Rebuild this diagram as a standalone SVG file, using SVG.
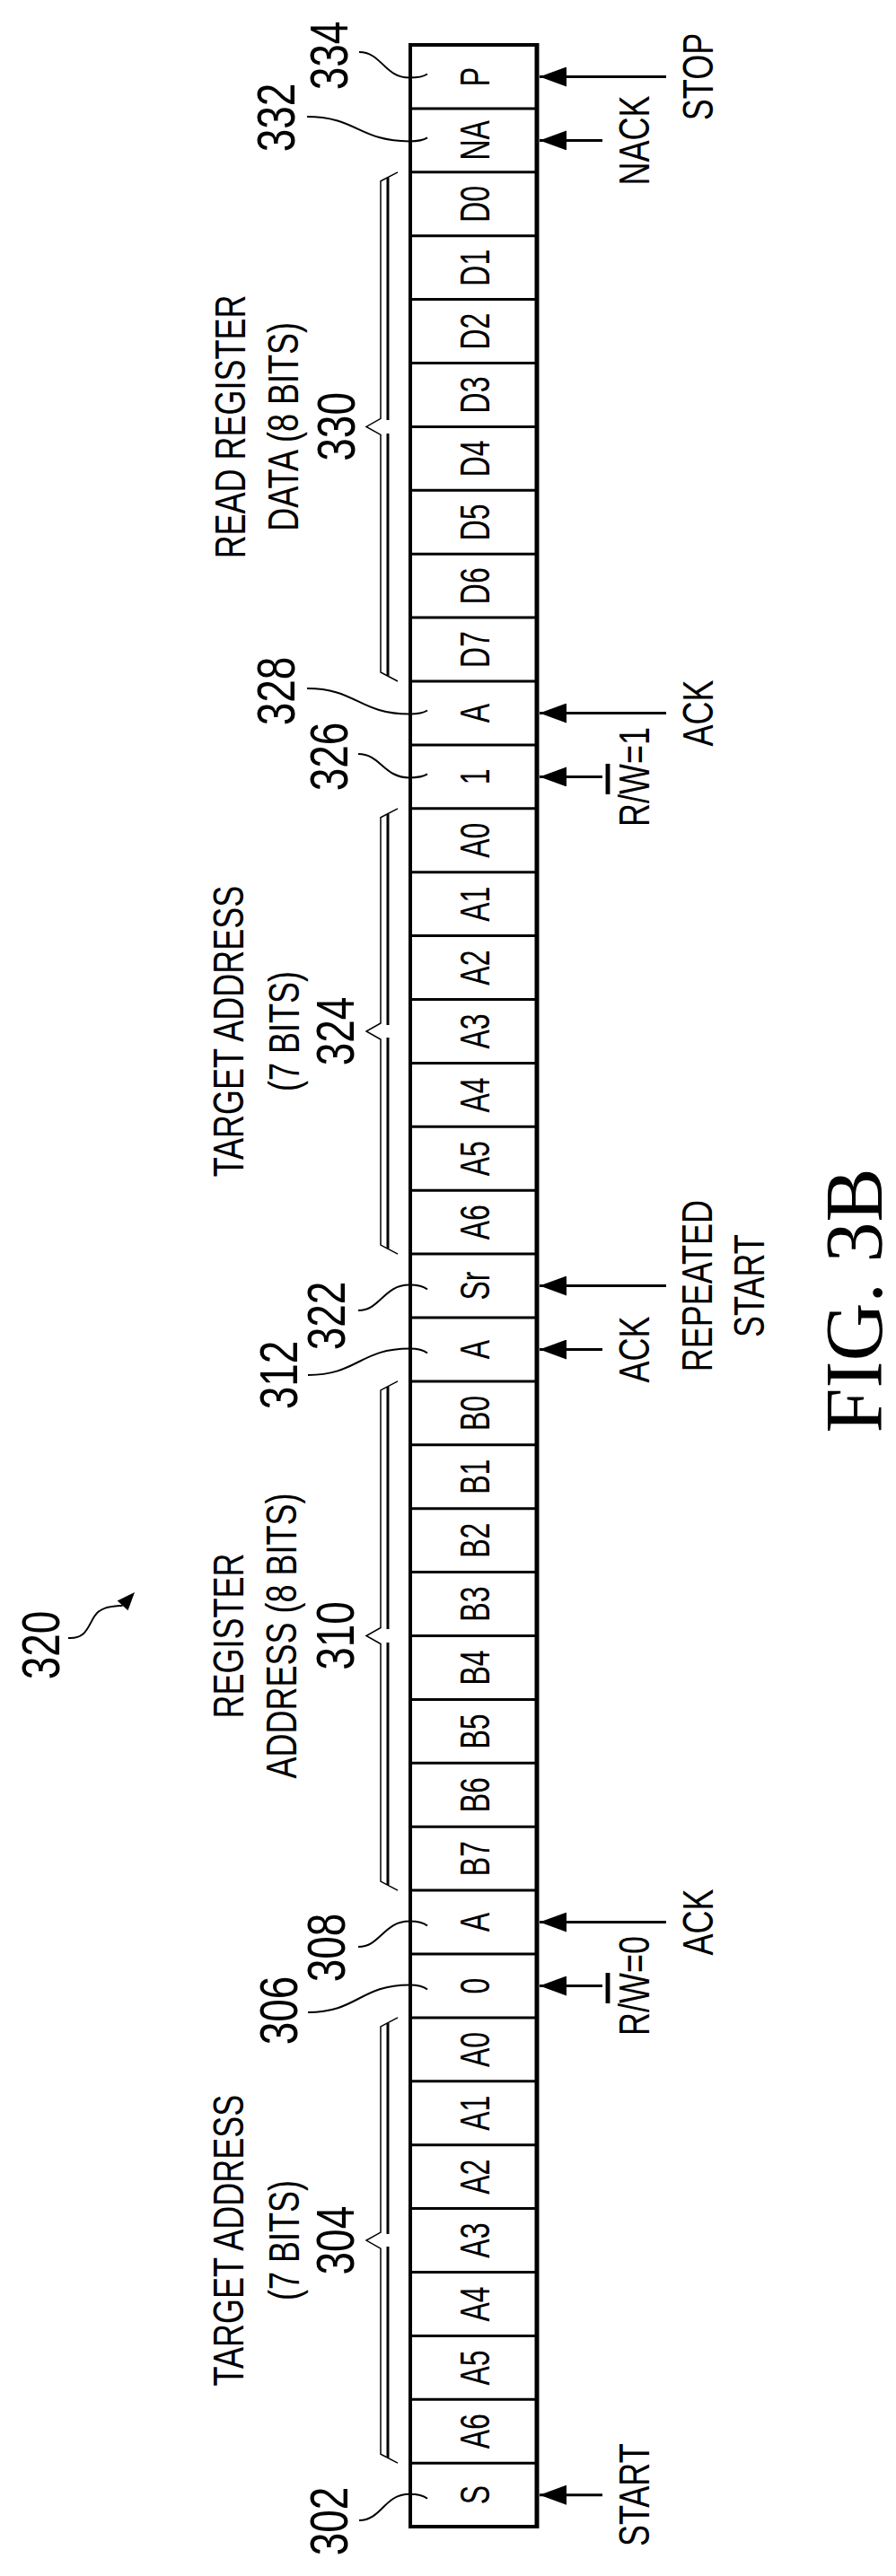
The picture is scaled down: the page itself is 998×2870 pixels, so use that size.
<svg xmlns="http://www.w3.org/2000/svg" width="998" height="2870" viewBox="0 0 998 2870">
<defs>
<style>
text{font-family:"Liberation Sans",Arial,sans-serif;fill:#000;text-anchor:middle}
.cell{font-size:32px}
.lab{font-size:36px}
.num{font-size:46px}
.fig{font-family:"Liberation Serif","Times New Roman",serif;font-size:90px}
.div{stroke:#000;stroke-width:3}
.arr{stroke:#000;stroke-width:3}
.lead{stroke:#000;stroke-width:2;fill:none}
.br1{stroke:#000;stroke-width:1.5;fill:none}
.br2{stroke:#000;stroke-width:3;fill:none}
</style>
<marker id="ah" viewBox="0 0 30 22" refX="30" refY="11" markerWidth="30" markerHeight="22" markerUnits="userSpaceOnUse" orient="auto"><path d="M0,0 L30,11 L0,22 z" fill="#000"/></marker>
</defs>
<rect width="998" height="2870" fill="#fff"/>

<g id="frame">
<rect x="457" y="50" width="141" height="2765" fill="none" stroke="#000" stroke-width="4"/>
<line x1="598" y1="48" x2="598" y2="2817" stroke="#000" stroke-width="5"/>
<line class="div" x1="457" x2="598" y1="120.9" y2="120.9"/><line class="div" x1="457" x2="598" y1="191.8" y2="191.8"/><line class="div" x1="457" x2="598" y1="262.7" y2="262.7"/><line class="div" x1="457" x2="598" y1="333.6" y2="333.6"/><line class="div" x1="457" x2="598" y1="404.5" y2="404.5"/><line class="div" x1="457" x2="598" y1="475.4" y2="475.4"/><line class="div" x1="457" x2="598" y1="546.3" y2="546.3"/><line class="div" x1="457" x2="598" y1="617.2" y2="617.2"/><line class="div" x1="457" x2="598" y1="688.1" y2="688.1"/><line class="div" x1="457" x2="598" y1="759" y2="759"/><line class="div" x1="457" x2="598" y1="829.9" y2="829.9"/><line class="div" x1="457" x2="598" y1="900.8" y2="900.8"/><line class="div" x1="457" x2="598" y1="971.7" y2="971.7"/><line class="div" x1="457" x2="598" y1="1042.6" y2="1042.6"/><line class="div" x1="457" x2="598" y1="1113.5" y2="1113.5"/><line class="div" x1="457" x2="598" y1="1184.4" y2="1184.4"/><line class="div" x1="457" x2="598" y1="1255.3" y2="1255.3"/><line class="div" x1="457" x2="598" y1="1326.2" y2="1326.2"/><line class="div" x1="457" x2="598" y1="1397.1" y2="1397.1"/><line class="div" x1="457" x2="598" y1="1468" y2="1468"/><line class="div" x1="457" x2="598" y1="1538.9" y2="1538.9"/><line class="div" x1="457" x2="598" y1="1609.8" y2="1609.8"/><line class="div" x1="457" x2="598" y1="1680.7" y2="1680.7"/><line class="div" x1="457" x2="598" y1="1751.6" y2="1751.6"/><line class="div" x1="457" x2="598" y1="1822.5" y2="1822.5"/><line class="div" x1="457" x2="598" y1="1893.4" y2="1893.4"/><line class="div" x1="457" x2="598" y1="1964.3" y2="1964.3"/><line class="div" x1="457" x2="598" y1="2035.2" y2="2035.2"/><line class="div" x1="457" x2="598" y1="2106.1" y2="2106.1"/><line class="div" x1="457" x2="598" y1="2177" y2="2177"/><line class="div" x1="457" x2="598" y1="2247.9" y2="2247.9"/><line class="div" x1="457" x2="598" y1="2318.8" y2="2318.8"/><line class="div" x1="457" x2="598" y1="2389.7" y2="2389.7"/><line class="div" x1="457" x2="598" y1="2460.6" y2="2460.6"/><line class="div" x1="457" x2="598" y1="2531.5" y2="2531.5"/><line class="div" x1="457" x2="598" y1="2602.4" y2="2602.4"/><line class="div" x1="457" x2="598" y1="2673.3" y2="2673.3"/><line class="div" x1="457" x2="598" y1="2744.2" y2="2744.2"/>
</g>

<g id="cells">
<text class="cell" transform="translate(528 85.5) rotate(-90) scale(1 1.45)" y="11.5">P</text>
<text class="cell" transform="translate(528 156.4) rotate(-90) scale(1 1.45)" y="11.5">NA</text>
<text class="cell" transform="translate(528 227.3) rotate(-90) scale(1 1.45)" y="11.5">D0</text>
<text class="cell" transform="translate(528 298.2) rotate(-90) scale(1 1.45)" y="11.5">D1</text>
<text class="cell" transform="translate(528 369.1) rotate(-90) scale(1 1.45)" y="11.5">D2</text>
<text class="cell" transform="translate(528 440) rotate(-90) scale(1 1.45)" y="11.5">D3</text>
<text class="cell" transform="translate(528 510.9) rotate(-90) scale(1 1.45)" y="11.5">D4</text>
<text class="cell" transform="translate(528 581.8) rotate(-90) scale(1 1.45)" y="11.5">D5</text>
<text class="cell" transform="translate(528 652.7) rotate(-90) scale(1 1.45)" y="11.5">D6</text>
<text class="cell" transform="translate(528 723.6) rotate(-90) scale(1 1.45)" y="11.5">D7</text>
<text class="cell" transform="translate(528 794.5) rotate(-90) scale(1 1.45)" y="11.5">A</text>
<text class="cell" transform="translate(528 865.4) rotate(-90) scale(1 1.45)" y="11.5">1</text>
<text class="cell" transform="translate(528 936.3) rotate(-90) scale(1 1.45)" y="11.5">A0</text>
<text class="cell" transform="translate(528 1007.2) rotate(-90) scale(1 1.45)" y="11.5">A1</text>
<text class="cell" transform="translate(528 1078.1) rotate(-90) scale(1 1.45)" y="11.5">A2</text>
<text class="cell" transform="translate(528 1149) rotate(-90) scale(1 1.45)" y="11.5">A3</text>
<text class="cell" transform="translate(528 1219.9) rotate(-90) scale(1 1.45)" y="11.5">A4</text>
<text class="cell" transform="translate(528 1290.8) rotate(-90) scale(1 1.45)" y="11.5">A5</text>
<text class="cell" transform="translate(528 1361.7) rotate(-90) scale(1 1.45)" y="11.5">A6</text>
<text class="cell" transform="translate(528 1432.6) rotate(-90) scale(1 1.45)" y="11.5">Sr</text>
<text class="cell" transform="translate(528 1503.5) rotate(-90) scale(1 1.45)" y="11.5">A</text>
<text class="cell" transform="translate(528 1574.4) rotate(-90) scale(1 1.45)" y="11.5">B0</text>
<text class="cell" transform="translate(528 1645.3) rotate(-90) scale(1 1.45)" y="11.5">B1</text>
<text class="cell" transform="translate(528 1716.2) rotate(-90) scale(1 1.45)" y="11.5">B2</text>
<text class="cell" transform="translate(528 1787.1) rotate(-90) scale(1 1.45)" y="11.5">B3</text>
<text class="cell" transform="translate(528 1858) rotate(-90) scale(1 1.45)" y="11.5">B4</text>
<text class="cell" transform="translate(528 1928.9) rotate(-90) scale(1 1.45)" y="11.5">B5</text>
<text class="cell" transform="translate(528 1999.8) rotate(-90) scale(1 1.45)" y="11.5">B6</text>
<text class="cell" transform="translate(528 2070.7) rotate(-90) scale(1 1.45)" y="11.5">B7</text>
<text class="cell" transform="translate(528 2141.6) rotate(-90) scale(1 1.45)" y="11.5">A</text>
<text class="cell" transform="translate(528 2212.5) rotate(-90) scale(1 1.45)" y="11.5">0</text>
<text class="cell" transform="translate(528 2283.4) rotate(-90) scale(1 1.45)" y="11.5">A0</text>
<text class="cell" transform="translate(528 2354.3) rotate(-90) scale(1 1.45)" y="11.5">A1</text>
<text class="cell" transform="translate(528 2425.2) rotate(-90) scale(1 1.45)" y="11.5">A2</text>
<text class="cell" transform="translate(528 2496.1) rotate(-90) scale(1 1.45)" y="11.5">A3</text>
<text class="cell" transform="translate(528 2567) rotate(-90) scale(1 1.45)" y="11.5">A4</text>
<text class="cell" transform="translate(528 2637.9) rotate(-90) scale(1 1.45)" y="11.5">A5</text>
<text class="cell" transform="translate(528 2708.8) rotate(-90) scale(1 1.45)" y="11.5">A6</text>
<text class="cell" transform="translate(528 2779.7) rotate(-90) scale(1 1.45)" y="11.5">S</text>
</g>

<g id="connectors">
<line class="arr" x1="742" y1="85.5" x2="601" y2="85.5" marker-end="url(#ah)"/>
<line class="arr" x1="671" y1="156.4" x2="601" y2="156.4" marker-end="url(#ah)"/>
<line class="arr" x1="742" y1="794.5" x2="601" y2="794.5" marker-end="url(#ah)"/>
<line class="arr" x1="671" y1="865.4" x2="601" y2="865.4" marker-end="url(#ah)"/>
<line class="arr" x1="742" y1="1432.6" x2="601" y2="1432.6" marker-end="url(#ah)"/>
<line class="arr" x1="671" y1="1503.5" x2="601" y2="1503.5" marker-end="url(#ah)"/>
<line class="arr" x1="742" y1="2141.6" x2="601" y2="2141.6" marker-end="url(#ah)"/>
<line class="arr" x1="671" y1="2212.5" x2="601" y2="2212.5" marker-end="url(#ah)"/>
<line class="arr" x1="671" y1="2779.7" x2="601" y2="2779.7" marker-end="url(#ah)"/>
<path class="lead" d="M400,58 C425,58 428,86.5 456,86.5 Q470,86.5 476,82.5"/>
<path class="lead" d="M342,130 C397,130 400,157.4 456,157.4 Q470,157.4 476,153.4"/>
<path class="lead" d="M342,767 C397,767 400,795.5 456,795.5 Q470,795.5 476,791.5"/>
<path class="lead" d="M399,840 C424,840 427,866.4 456,866.4 Q470,866.4 476,862.4"/>
<path class="lead" d="M399,1460 C424,1460 427,1431.6 456,1431.6 Q470,1431.6 476,1436.6"/>
<path class="lead" d="M343,1532 C398,1532 401,1502.5 456,1502.5 Q470,1502.5 476,1507.5"/>
<path class="lead" d="M399,2169 C424,2169 427,2140.6 456,2140.6 Q470,2140.6 476,2145.6"/>
<path class="lead" d="M343,2242 C398,2242 401,2211.5 456,2211.5 Q470,2211.5 476,2216.5"/>
<path class="lead" d="M400,2808 C425,2808 428,2778.7 456,2778.7 Q470,2778.7 476,2783.7"/>
<path class="br1" d="M443,191.8 L424,201.8 L424,466.4 L408,475.4 L424,484.4 L424,749 L443,759"/>
<path class="br2" d="M432,198 L432,468 M432,483 L432,753"/>
<path class="br1" d="M443,900.8 L424,910.8 L424,1140 L408,1149 L424,1158 L424,1387.1 L443,1397.1"/>
<path class="br2" d="M432,907 L432,1142 M432,1156 L432,1391"/>
<path class="br1" d="M443,1538.9 L424,1548.9 L424,1813.5 L408,1822.5 L424,1831.5 L424,2096.1 L443,2106.1"/>
<path class="br2" d="M432,1545 L432,1815 M432,1830 L432,2100"/>
<path class="br1" d="M443,2247.9 L424,2257.9 L424,2487.1 L408,2496.1 L424,2505.1 L424,2734.2 L443,2744.2"/>
<path class="br2" d="M432,2254 L432,2489 M432,2503 L432,2738"/>
<path class="lead" d="M76,1825 C96,1826 98,1812 105,1801 C112,1790 124,1790 136.6,1788.8"/>
<polygon points="150,1774 142.5,1794.2 130.7,1783.4" fill="#000"/>
</g>

<g id="arrow-labels">
<text class="lab" transform="translate(777 85.5) rotate(-90) scale(1 1.35)" y="12.9">STOP</text>
<text class="lab" transform="translate(706 156.4) rotate(-90) scale(1 1.35)" y="12.9">NACK</text>
<text class="lab" transform="translate(777 794.5) rotate(-90) scale(1 1.35)" y="12.9">ACK</text>
<text class="lab" transform="translate(706 865.4) rotate(-90) scale(1 1.35)" y="12.9">R/<tspan style="text-decoration:overline">W</tspan>=1</text>
<text class="lab" transform="translate(776 1432.6) rotate(-90) scale(1 1.35)" y="12.9">REPEATED</text>
<text class="lab" transform="translate(834 1432.6) rotate(-90) scale(1 1.35)" y="12.9">START</text>
<text class="lab" transform="translate(706 1503.5) rotate(-90) scale(1 1.35)" y="12.9">ACK</text>
<text class="lab" transform="translate(777 2141.6) rotate(-90) scale(1 1.35)" y="12.9">ACK</text>
<text class="lab" transform="translate(706 2212.5) rotate(-90) scale(1 1.35)" y="12.9">R/<tspan style="text-decoration:overline">W</tspan>=0</text>
<text class="lab" transform="translate(706 2779.7) rotate(-90) scale(1 1.35)" y="12.9">START</text>
</g>

<g id="group-labels">
<text class="lab" transform="translate(256 475.4) rotate(-90) scale(1 1.35)" y="12.9">READ REGISTER</text>
<text class="lab" transform="translate(315 475.4) rotate(-90) scale(1 1.35)" y="12.9">DATA (8 BITS)</text>
<text class="num" transform="translate(374 475.4) rotate(-90) scale(1 1.3)" y="16.5">330</text>
<text class="lab" transform="translate(254 1149) rotate(-90) scale(1 1.35)" y="12.9">TARGET ADDRESS</text>
<text class="lab" transform="translate(316 1149) rotate(-90) scale(1 1.35)" y="12.9">(7 BITS)</text>
<text class="num" transform="translate(373 1149) rotate(-90) scale(1 1.3)" y="16.5">324</text>
<text class="lab" transform="translate(254 1822.5) rotate(-90) scale(1 1.35)" y="12.9">REGISTER</text>
<text class="lab" transform="translate(313 1822.5) rotate(-90) scale(1 1.35)" y="12.9">ADDRESS (8 BITS)</text>
<text class="num" transform="translate(373 1822.5) rotate(-90) scale(1 1.3)" y="16.5">310</text>
<text class="lab" transform="translate(254 2496.1) rotate(-90) scale(1 1.35)" y="12.9">TARGET ADDRESS</text>
<text class="lab" transform="translate(316 2496.1) rotate(-90) scale(1 1.35)" y="12.9">(7 BITS)</text>
<text class="num" transform="translate(373 2496.1) rotate(-90) scale(1 1.3)" y="16.5">304</text>
</g>

<g id="refs">
<text class="num" transform="translate(366 62) rotate(-90) scale(1 1.3)" y="16.5">334</text>
<text class="num" transform="translate(307 131) rotate(-90) scale(1 1.3)" y="16.5">332</text>
<text class="num" transform="translate(307 770) rotate(-90) scale(1 1.3)" y="16.5">328</text>
<text class="num" transform="translate(366 843) rotate(-90) scale(1 1.3)" y="16.5">326</text>
<text class="num" transform="translate(363 1466) rotate(-90) scale(1 1.3)" y="16.5">322</text>
<text class="num" transform="translate(310 1532) rotate(-90) scale(1 1.3)" y="16.5">312</text>
<text class="num" transform="translate(363 2170) rotate(-90) scale(1 1.3)" y="16.5">308</text>
<text class="num" transform="translate(310 2240) rotate(-90) scale(1 1.3)" y="16.5">306</text>
<text class="num" transform="translate(366 2809) rotate(-90) scale(1 1.3)" y="16.5">302</text>
<text class="num" transform="translate(45 1833) rotate(-90) scale(1 1.3)" y="16.5">320</text>
</g>

<g id="title">
<text class="fig" transform="translate(952 1449) rotate(-90)" y="30">FIG. 3B</text>
</g>
</svg>
